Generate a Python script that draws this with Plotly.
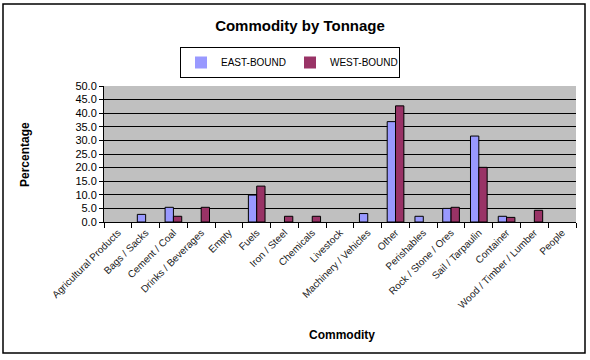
import plotly.graph_objects as go

categories = ["Agricultural Products", "Bags / Sacks", "Cement / Coal", "Drinks / Beverages",
              "Empty", "Fuels", "Iron / Steel", "Chemicals", "Livestock", "Machinery / Vehicles",
              "Other", "Perishables", "Rock / Stone / Ores", "Sail / Tarpaulin", "Container",
              "Wood / Timber / Lumber", "People"]
east_bound = [0, 2.8, 5.4, 0, 0, 9.9, 0, 0, 0, 3.1, 36.9, 2.1, 5.0, 31.6, 2.1, 0, 0]
west_bound = [0, 0, 2.1, 5.4, 0, 13.2, 2.1, 2.1, 0, 0, 42.7, 0, 5.4, 20.1, 1.7, 4.3, 0]
y_ticks = [0, 5, 10, 15, 20, 25, 30, 35, 40, 45, 50]

W, H = 590, 360
L, R, T, B = 104, 14, 86, 138
pw, ph = W - L - R, H - T - B

def px(x):
    return (x - L) / pw

def py(y):
    return (H - B - y) / ph

def outline(vals):
    return [1 if v > 0 else 0 for v in vals]

fig = go.Figure()
fig.add_trace(go.Bar(x=categories, y=east_bound, name="EAST-BOUND",
                     marker=dict(color="#9999FF", line=dict(color="#000000", width=outline(east_bound)))))
fig.add_trace(go.Bar(x=categories, y=west_bound, name="WEST-BOUND",
                     marker=dict(color="#993366", line=dict(color="#000000", width=outline(west_bound)))))

fig.update_layout(
    width=W, height=H,
    margin=dict(l=L, r=R, t=T, b=B),
    paper_bgcolor="white", plot_bgcolor="#C0C0C0",
    barmode="group", bargap=0.4, bargroupgap=0,
    font=dict(family="Arial, Liberation Sans, sans-serif", color="black"),
    title=dict(text="<b>Commodity by Tonnage</b>", x=px(300), xref="paper", xanchor="center",
               y=1 - 26 / H, yanchor="middle", font=dict(size=15)),
    showlegend=True,
    legend=dict(orientation="h", x=px(180), y=py(47), xanchor="left", yanchor="top",
                bordercolor="black", borderwidth=1, bgcolor="white",
                font=dict(size=10), entrywidth=64, itemwidth=30,
                tracegroupgap=0),
    xaxis=dict(type="category", tickangle=-45, tickfont=dict(size=10, color="#222222"),
               showline=True, linecolor="black", linewidth=1,
               ticks="outside", tickson="boundaries", ticklen=5, tickcolor="black",
               showgrid=False),
    yaxis=dict(range=[0, 50], tickvals=y_ticks, tickformat=".1f", tickfont=dict(size=11),
               showline=True, linecolor="black", linewidth=1,
               ticks="outside", ticklen=4, tickcolor="black",
               showgrid=True, gridcolor="black", gridwidth=1, zeroline=False),
    annotations=[
        dict(text="<b>Percentage</b>", x=px(16), y=py(155), xref="paper", yref="paper",
             textangle=-90, showarrow=False, font=dict(size=12)),
        dict(text="<b>Commodity</b>", x=px(342), y=py(344), xref="paper", yref="paper",
             showarrow=False, font=dict(size=12)),
    ],
    shapes=[
        dict(type="rect", xref="paper", yref="paper", x0=px(3), x1=px(585), y0=py(353), y1=py(4),
             line=dict(color="black", width=1.5), fillcolor="rgba(0,0,0,0)", layer="below"),
    ],
)

fig.write_html("out.html", config={"displayModeBar": False},
               post_script="document.body.style.margin='0';document.body.style.overflow='hidden';")
